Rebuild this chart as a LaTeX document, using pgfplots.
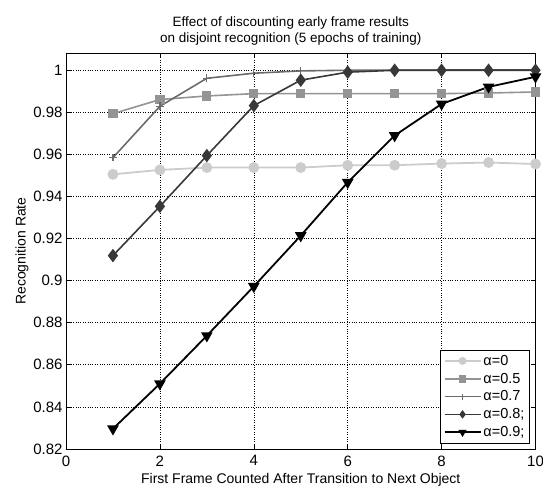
\documentclass[border=0pt]{standalone}
\usepackage{pgfplots}
\pgfplotsset{compat=1.18}
\usepackage{fontspec}
\setmainfont{Liberation Sans}
\definecolor{c0}{gray}{0.80}
\definecolor{c5}{gray}{0.58}
\definecolor{c7}{gray}{0.42}
\definecolor{c8}{gray}{0.22}
\definecolor{c9}{gray}{0.0}
\begin{document}
\begin{tikzpicture}
\path[use as bounding box] (-66pt,-40pt) rectangle (477pt,449pt);
\begin{axis}[
  at={(0pt,0pt)}, anchor=south west,
  scale only axis, width=469.5pt, height=396pt,
  xmin=0, xmax=10, ymin=0.82, ymax=1.008,
  xtick={0,2,...,10}, ytick={0.82,0.84,...,1.0},
  yticklabels={0.82,0.84,0.86,0.88,0.9,0.92,0.94,0.96,0.98,1},
  /pgf/number format/assume math mode=true,
  grid=major,
  major grid style={black, dotted, line width=0.5pt},
  axis line style={black, line width=0.8pt},
  tick style={black, line width=0.6pt},
  tick align=inside, major tick length=5pt,
  xtick pos=both, ytick pos=both,
  ticklabel style={font=\fontsize{15}{17}\selectfont},
  xticklabel style={yshift=-3pt},
  xlabel={First Frame Counted After Transition to Next Object},
  ylabel={Recognition Rate},
  label style={font=\fontsize{14}{17}\selectfont},
  xlabel style={yshift=0pt},
  ylabel style={yshift=-2pt},
  title style={font=\fontsize{13.5}{16}\selectfont, align=center, xshift=-10pt, yshift=-2pt},
  title={Effect of discounting early frame results\\on disjoint recognition (5 epochs of training)},
  legend style={at={(0.988,0.014)}, anchor=south east, draw=black, line width=0.8pt,
    font=\fontsize{14.5}{17}\selectfont, row sep=2.2pt, inner sep=3pt},
  legend cell align=left,
  legend image code/.code={\draw[mark repeat=2, mark phase=2, #1, mark size=3pt] plot coordinates {(0pt,0pt)(18pt,0pt)(36pt,0pt)};},
]
\addplot[c0, line width=1.8pt, mark=*, mark size=4.5pt] coordinates {
(1,0.9504)(2,0.9525)(3,0.9536)(4,0.9536)(5,0.9536)(6,0.9547)(7,0.9547)(8,0.9555)(9,0.9560)(10,0.9553)};
\addlegendentry{α=0}
\addplot[c5, line width=1.6pt, mark=square*, mark size=3.8pt] coordinates {
(1,0.9792)(2,0.9859)(3,0.9876)(4,0.9887)(5,0.9887)(6,0.9887)(7,0.9887)(8,0.9887)(9,0.9890)(10,0.9895)};
\addlegendentry{α=0.5}
\addplot[c7, line width=1.6pt, mark=+, mark size=3.8pt, mark options={line width=1.2pt}] coordinates {
(1,0.9583)(2,0.9827)(3,0.9960)(4,0.9984)(5,0.9995)(6,0.9998)(7,0.9999)(8,0.9999)(9,1.0)(10,1.0)};
\addlegendentry{α=0.7}
\addplot[c8, line width=1.6pt, mark=diamond*, mark size=5.5pt] coordinates {
(1,0.9118)(2,0.9352)(3,0.9593)(4,0.9830)(5,0.9951)(6,0.9989)(7,0.9998)(8,0.9998)(9,0.9998)(10,0.9998)};
\addlegendentry{α=0.8;}
\addplot[c9, line width=1.8pt, mark=triangle*, mark size=5pt, mark options={rotate=180}] coordinates {
(1,0.8296)(2,0.8510)(3,0.8738)(4,0.8972)(5,0.9213)(6,0.9466)(7,0.9688)(8,0.9838)(9,0.9919)(10,0.9967)};
\addlegendentry{α=0.9;}
\end{axis}
\end{tikzpicture}
\end{document}
